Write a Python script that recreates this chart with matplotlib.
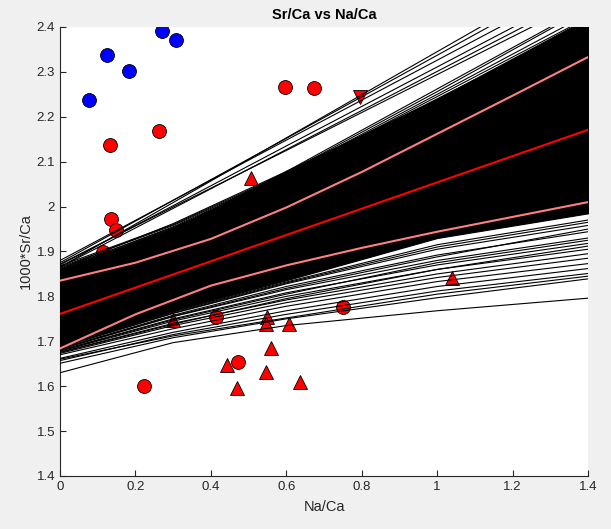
import numpy as np
import matplotlib
matplotlib.use("Agg")
import matplotlib.pyplot as plt

plt.rcParams['font.family'] = ['Liberation Sans', 'DejaVu Sans']

# ---------------- data ----------------
# group 1 (blue circles)
blue_x = [0.077, 0.125, 0.183, 0.270, 0.308]
blue_y = [2.237, 2.338, 2.302, 2.391, 2.371]
# red circles
rc_x = [0.133, 0.263, 0.597, 0.674, 0.135, 0.149, 0.114, 0.223, 0.414, 0.473, 0.751]
rc_y = [2.137, 2.168, 2.266, 2.264, 1.972, 1.948, 1.899, 1.601, 1.753, 1.653, 1.777]
# red up-triangles
rt_x = [0.506, 0.300, 0.548, 0.545, 0.606, 0.559, 0.444, 0.546, 0.469, 0.636, 1.039]
rt_y = [2.063, 1.747, 1.755, 1.739, 1.739, 1.684, 1.647, 1.631, 1.595, 1.609, 1.840]
# red down-triangle
rd_x = [0.796]
rd_y = [2.245]

# bootstrap fit lines, value at line nodes
line_nodes = [0.0, 0.3, 0.6, 1.0, 1.4]
upper_lines = [
    [1.865, 2.009, 2.153, 2.345, 2.537],
    [1.875, 2.014, 2.152, 2.337, 2.522],
    [1.880, 2.014, 2.148, 2.326, 2.504],
    [1.870, 2.002, 2.135, 2.311, 2.487],
    [1.865, 1.996, 2.127, 2.301, 2.475],
    [1.872, 1.999, 2.125, 2.294, 2.463],
    [1.862, 1.962, 2.078, 2.262, 2.446],
    [1.868, 1.960, 2.075, 2.256, 2.442],
    [1.865, 1.958, 2.072, 2.250, 2.429],
    [1.860, 1.955, 2.070, 2.245, 2.421],
    [1.858, 1.952, 2.068, 2.240, 2.411],
    [1.855, 1.950, 2.066, 2.232, 2.401],
    [1.862, 1.953, 2.066, 2.234, 2.401],
    [1.850, 1.948, 2.062, 2.226, 2.393],
    [1.856, 1.950, 2.063, 2.225, 2.388],
]
lower_lines = [
    [1.630, 1.697, 1.735, 1.768, 1.796],
    [1.651, 1.708, 1.750, 1.797, 1.839],
    [1.660, 1.712, 1.752, 1.805, 1.845],
    [1.657, 1.715, 1.760, 1.812, 1.851],
    [1.662, 1.720, 1.768, 1.822, 1.862],
    [1.670, 1.728, 1.778, 1.833, 1.873],
    [1.673, 1.735, 1.786, 1.842, 1.885],
    [1.676, 1.740, 1.792, 1.850, 1.895],
    [1.675, 1.738, 1.795, 1.860, 1.912],
    [1.678, 1.745, 1.800, 1.860, 1.905],
    [1.679, 1.748, 1.805, 1.875, 1.925],
    [1.680, 1.750, 1.808, 1.870, 1.918],
    [1.682, 1.755, 1.815, 1.880, 1.930],
    [1.684, 1.758, 1.822, 1.892, 1.944],
    [1.683, 1.756, 1.818, 1.888, 1.950],
    [1.686, 1.762, 1.828, 1.905, 1.958],
    [1.687, 1.763, 1.830, 1.910, 1.965],
    [1.688, 1.765, 1.832, 1.915, 1.970],
]
# dense envelope of the bootstrap lines
core_upper = [1.860, 1.950, 2.080, 2.240, 2.420]
core_lower = [1.690, 1.768, 1.836, 1.930, 1.985]

# fit and confidence bounds
band_x = [0.0, 0.2, 0.4, 0.6, 0.8, 1.0, 1.2, 1.4]
band_hi = [1.835, 1.875, 1.928, 1.998, 2.077, 2.162, 2.247, 2.333]
band_lo = [1.684, 1.760, 1.824, 1.869, 1.908, 1.944, 1.977, 2.010]
fit_x = [0.0, 1.4]
fit_y = [1.761, 2.171]

xticks = [0, 0.2, 0.4, 0.6, 0.8, 1.0, 1.2, 1.4]
xticklabels = ['0', '0.2', '0.4', '0.6', '0.8', '1', '1.2', '1.4']
yticks = [1.4, 1.5, 1.6, 1.7, 1.8, 1.9, 2.0, 2.1, 2.2, 2.3, 2.4]
yticklabels = ['1.4', '1.5', '1.6', '1.7', '1.8', '1.9', '2', '2.1', '2.2', '2.3', '2.4']

# ---------------- figure ----------------
fig = plt.figure(figsize=(6.11, 5.29), dpi=100, facecolor='#f0f0f0')
ax = fig.add_axes([0.0982, 0.1002, 0.8642, 0.8488])
ax.set_facecolor('white')

mk = dict(markersize=10, markeredgecolor='black', markeredgewidth=0.6, linestyle='none', zorder=2)
ax.plot(blue_x, blue_y, 'o', markerfacecolor='#0000ff', **mk)
ax.plot(rc_x, rc_y, 'o', markerfacecolor='#ff0000', **mk)
ax.plot(rt_x, rt_y, '^', markerfacecolor='#ff0000', **mk)
ax.plot(rd_x, rd_y, 'v', markerfacecolor='#ff0000', **mk)

ax.fill_between(line_nodes, core_lower, core_upper, color='black', lw=0.8, zorder=3)
for ln in upper_lines + lower_lines:
    ax.plot(line_nodes, ln, color='black', lw=0.8, zorder=3)

ax.plot(band_x, band_hi, color='#ff8080', lw=1.5, zorder=4)
ax.plot(band_x, band_lo, color='#ff8080', lw=1.5, zorder=4)
ax.plot(fit_x, fit_y, color='#ff0000', lw=1.5, zorder=5)

ax.set_xlim(0, 1.4)
ax.set_ylim(1.4, 2.4)
ax.set_xticks(xticks)
ax.set_xticklabels(xticklabels)
ax.set_yticks(yticks)
ax.set_yticklabels(yticklabels)
ax.tick_params(direction='in', length=4, width=0.8, colors='#262626', labelsize=9.5)
for s in ['top', 'right']:
    ax.spines[s].set_visible(False)
for s in ['left', 'bottom']:
    ax.spines[s].set_color('#262626')
    ax.spines[s].set_linewidth(0.8)

ax.set_title('Sr/Ca vs Na/Ca', fontsize=10.5, fontweight='bold', color='black', pad=6)
ax.set_xlabel('Na/Ca', fontsize=10.5, color='#262626', labelpad=5)
ax.set_ylabel('1000*Sr/Ca', fontsize=10.5, color='#262626', labelpad=3)

fig.savefig('out.png', dpi=100, facecolor=fig.get_facecolor())
